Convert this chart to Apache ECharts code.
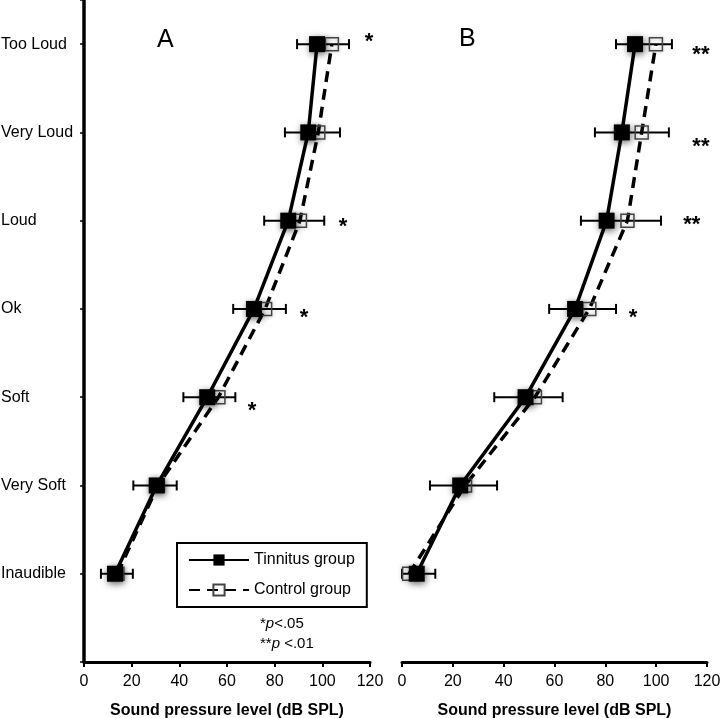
<!DOCTYPE html>
<html><head><meta charset="utf-8">
<script src="https://cdn.jsdelivr.net/npm/echarts@6/dist/echarts.min.js"></script>
<style>html,body{margin:0;padding:0;background:#fff}#c{width:720px;height:718px}</style>
</head><body><div id="c"></div>
<script>
// Categories, bottom to top (y = index + 1)
const categories = ['Inaudible','Very Soft','Soft','Ok','Loud','Very Loud','Too Loud'];
const xTicks = [0,20,40,60,80,100,120];

// Panel A
const tinnitusA = [13.0, 30.5, 51.7, 71.3, 85.7, 94.1, 97.8];
const controlA  = [14.0, 31.0, 56.4, 76.0, 90.6, 98.3, 104.0];
const errLowA   = [7.1, 20.7, 41.7, 62.6, 75.6, 84.3, 89.4];
const errHighA  = [20.5, 38.9, 63.5, 84.7, 100.8, 107.4, 111.2];
const sigA      = ['', '', '*', '*', '*', '', '*'];
const sigXA     = [null, null, 70.5, 92.3, 108.7, null, 119.6];
const sigYA     = [null, null, 2.85, 3.9, 4.93, null, 7.02];

// Panel B
const tinnitusB = [5.8, 22.9, 48.6, 68.1, 80.5, 86.5, 91.7];
const controlB  = [2.8, 24.8, 52.3, 73.7, 88.7, 94.3, 99.9];
const errLowB   = [0, 11.0, 36.3, 57.9, 70.4, 75.9, 84.2];
const errHighB  = [13.1, 37.4, 63.2, 84.2, 101.9, 105.0, 106.2];
const sigB      = ['', '', '', '*', '**', '**', '**'];
const sigXB     = [null, null, null, 90.9, 114.0, 117.6, 117.6];
const sigYB     = [null, null, null, 3.9, 4.95, 5.83, 6.88];

const FONT = '"Liberation Sans", Arial, sans-serif';

function pts(vals){ return vals.map((v,i)=>[v, i+1]); }
function errData(lo, hi){ return lo.map((l,i)=>[l, hi[i], i+1]); }
function sigData(lbl, xs, ys){
  const out=[]; lbl.forEach((l,i)=>{ if(l) out.push({value:[xs[i], ys[i]], label:{formatter:l}}); }); return out;
}
function errRender(params, api){
  const lo = api.coord([api.value(0), api.value(2)]);
  const hi = api.coord([api.value(1), api.value(2)]);
  const h = 5, st = {stroke:'#000', lineWidth:2};
  return {type:'group', children:[
    {type:'line', shape:{x1:lo[0],y1:lo[1],x2:hi[0],y2:hi[1]}, style:st},
    {type:'line', shape:{x1:lo[0],y1:lo[1]-h,x2:lo[0],y2:lo[1]+h}, style:st},
    {type:'line', shape:{x1:hi[0],y1:hi[1]-h,x2:hi[0],y2:hi[1]+h}, style:st}
  ]};
}

function xAxisCfg(idx){
  return {
    type:'value', gridIndex:idx, min:0, max:120, interval:20,
    axisLine:{show:true, onZero:false, lineStyle:{color:'#000', width:3}},
    axisTick:{show:true, length:5, lineStyle:{color:'#000', width:2}},
    axisLabel:{color:'#000', fontSize:16, fontFamily:FONT, margin:12},
    splitLine:{show:false},
    name:'Sound pressure level (dB SPL)', nameLocation:'middle', nameGap:41,
    nameTextStyle:{color:'#000', fontSize:16, fontWeight:'bold', fontFamily:FONT}
  };
}
function yAxisCfg(idx, show){
  return {
    type:'value', gridIndex:idx, min:0, max:7.5, interval:1,
    axisLine:{show:show, lineStyle:{color:'#000', width:3.5}},
    axisTick:{show:show, length:4, lineStyle:{color:'#000', width:1.5}},
    axisLabel:{show:show, color:'#000', fontSize:16, fontFamily:FONT, align:'left', margin:83,
      formatter:(v)=> (v>=1 && v<=7) ? categories[v-1] : ''},
    splitLine:{show:false}
  };
}

const tinnStyle = {
  type:'line', symbol:'rect', symbolSize:16, z:5,
  lineStyle:{color:'#000', width:3.5, type:'solid'},
  itemStyle:{color:'#000', shadowBlur:7, shadowColor:'rgba(0,0,0,0.6)', shadowOffsetX:1, shadowOffsetY:2},
  emphasis:{disabled:true}
};
const ctrlStyle = {
  type:'line', symbol:'rect', symbolSize:13, z:4,
  lineStyle:{color:'#000', width:3.5, type:[11,7]},
  itemStyle:{color:'rgba(255,255,255,0)', borderColor:'#444', borderWidth:1.5, shadowBlur:4, shadowColor:'rgba(0,0,0,0.3)'},
  emphasis:{disabled:true}
};
const sigStyle = {
  type:'scatter', symbol:'circle', symbolSize:1, z:6,
  itemStyle:{color:'rgba(0,0,0,0)'},
  label:{show:true, position:'inside', color:'#000', opacity:1, textBorderWidth:0, textBorderColor:'transparent',
    fontSize:22, fontWeight:'bold', fontFamily:FONT},
  emphasis:{disabled:true}, silent:true
};

function panelSeries(idx, tinn, ctrl, lo, hi, sl, sx, sy){
  return [
    {type:'custom', xAxisIndex:idx, yAxisIndex:idx, renderItem:errRender, data:errData(lo,hi),
     encode:{x:[0,1], y:2}, z:3, silent:true},
    Object.assign({name:'Control group', xAxisIndex:idx, yAxisIndex:idx, data:pts(ctrl)}, ctrlStyle),
    Object.assign({name:'Tinnitus group', xAxisIndex:idx, yAxisIndex:idx, data:pts(tinn)}, tinnStyle),
    Object.assign({name:'sig', xAxisIndex:idx, yAxisIndex:idx, data:sigData(sl,sx,sy)}, sigStyle)
  ];
}

const chart = echarts.init(document.getElementById('c'), null, {renderer:'canvas'});
chart.setOption({
  animation:false,
  backgroundColor:'#fff',
  grid:[
    {left:84, right:350, top:0, bottom:56, containLabel:false, outerBoundsMode:'none'},
    {left:402, right:13, top:0, bottom:56, containLabel:false, outerBoundsMode:'none'}
  ],
  xAxis:[xAxisCfg(0), xAxisCfg(1)],
  yAxis:[yAxisCfg(0,true), yAxisCfg(1,false)],
  legend:{
    data:['Tinnitus group','Control group'], orient:'vertical', left:177, top:543,
    itemWidth:60, itemHeight:14, itemGap:14, padding:[9,12,9,11],
    borderColor:'#000', borderWidth:2, selectedMode:false,
    textStyle:{color:'#000', fontSize:16, fontFamily:FONT}
  },
  graphic:[
    {type:'text', left:157, top:28, style:{text:'A', fontSize:25, fill:'#000', fontFamily:FONT}},
    {type:'text', left:459, top:27, style:{text:'B', fontSize:25, fill:'#000', fontFamily:FONT}},
    {type:'text', left:260, top:614, style:{
      text:'*{i|p}<.05\n**{i|p} <.01', fontSize:15, lineHeight:20, fill:'#000', fontFamily:FONT,
      rich:{i:{fontStyle:'italic', fontSize:15, fontFamily:FONT}}}}
  ],
  series:[].concat(
    panelSeries(0, tinnitusA, controlA, errLowA, errHighA, sigA, sigXA, sigYA),
    panelSeries(1, tinnitusB, controlB, errLowB, errHighB, sigB, sigXB, sigYB)
  )
});
</script></body></html>
